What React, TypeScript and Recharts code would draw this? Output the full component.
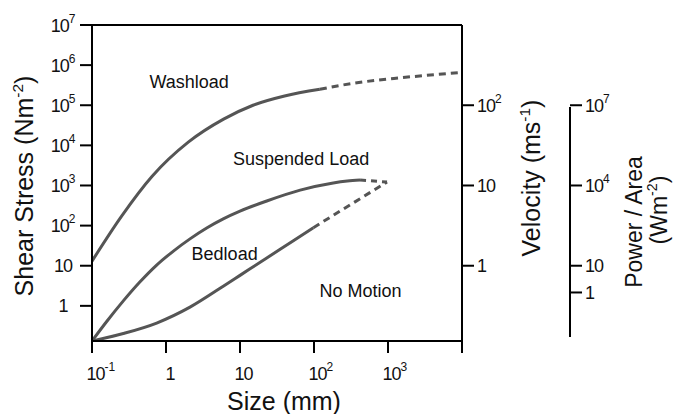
import { ComposedChart, Line, XAxis, YAxis, ReferenceLine, ReferenceDot, Label } from 'recharts';

const SIZE_TICKS = [0.1, 1, 10, 100, 1000, 10000];
const STRESS_TICKS = [1, 10, 100, 1e3, 1e4, 1e5, 1e6, 1e7];
const VELOCITY_TICKS = [1, 10, 100];
const POWER_TICKS = [1, 10, 1e4, 1e7];

const STRESS_DOMAIN = [0.133, 1e7];
// velocity^2 ~ stress / 10, power/area ~ 10 * velocity^3
const VELOCITY_DOMAIN = STRESS_DOMAIN.map((s) => Math.sqrt(s / 10));
const POWER_DOMAIN = VELOCITY_DOMAIN.map((v) => 10 * v * v * v);

const washloadSolid = [
    { size: 0.1, stress: 13 },
    { size: 0.25, stress: 170 },
    { size: 0.65, stress: 1700 },
    { size: 2, stress: 12000 },
    { size: 6, stress: 45000 },
    { size: 15, stress: 100000 },
    { size: 40, stress: 170000 },
    { size: 120, stress: 250000 },
];
const washloadDashed = [
    { size: 120, stress: 250000 },
    { size: 330, stress: 350000 },
    { size: 1600, stress: 490000 },
    { size: 10000, stress: 660000 },
];
const suspendedSolid = [
    { size: 0.1, stress: 0.133 },
    { size: 0.158, stress: 0.407 },
    { size: 0.265, stress: 1.33 },
    { size: 0.446, stress: 3.98 },
    { size: 0.748, stress: 10.4 },
    { size: 1.26, stress: 23.2 },
    { size: 2.11, stress: 46.7 },
    { size: 3.55, stress: 87 },
    { size: 5.94, stress: 147 },
    { size: 10, stress: 229 },
    { size: 23, stress: 410 },
    { size: 65, stress: 764 },
    { size: 182, stress: 1156 },
    { size: 282, stress: 1288 },
    { size: 419, stress: 1365 },
];
const suspendedDashed = [
    { size: 419, stress: 1365 },
    { size: 970, stress: 1220 },
];
const bedloadSolid = [
    { size: 0.1, stress: 0.133 },
    { size: 0.265, stress: 0.204 },
    { size: 0.748, stress: 0.372 },
    { size: 2.11, stress: 0.927 },
    { size: 5.94, stress: 3.08 },
    { size: 10, stress: 5.75 },
    { size: 23, stress: 15.6 },
    { size: 52.6, stress: 42.2 },
    { size: 98, stress: 88.9 },
];
const bedloadDashed = [
    { size: 98, stress: 88.9 },
    { size: 970, stress: 1220 },
];

const REGION_NAMES = ['Washload', 'Suspended Load', 'Bedload', 'No Motion'];
const REGION_SIZES = [2.05, 67, 6.2, 425];
const REGION_STRESSES = [3.9e5, 4700, 20, 2.33];

const INK = '#111';
const CURVE = '#555';
const SANS = '"Liberation Sans", Arial, Helvetica, sans-serif';
const TICK_SIZE = 18;
const DIGIT_W = 10;
const AXIS = { stroke: '#000', strokeWidth: 2 };

function splitPower(v: number) {
    const e = Math.round(Math.log10(v));
    if (e === 0) return { base: '1', exp: '' };
    if (e === 1) return { base: '10', exp: '' };
    return { base: '10', exp: String(e) };
}

function TickText({ x, y, value, anchor }: { x: number; y: number; value: number; anchor: 'start' | 'middle' }) {
    const { base, exp } = splitPower(value);
    return (
        <text x={x} y={y} textAnchor={anchor} fill={INK} fontFamily={SANS} fontSize={TICK_SIZE} letterSpacing={-1}>
            {base}
            {exp && <tspan dy={-9} fontSize={12} letterSpacing={0}>{exp}</tspan>}
        </text>
    );
}

const LeftTick = (p: any) => <TickText x={p.x - 15} y={p.y + 6.5} value={p.payload.value} anchor="middle" />;
const RightTick = (p: any) => <TickText x={p.x + 1} y={p.y + 6.5} value={p.payload.value} anchor="start" />;
const BottomTick = (p: any) => {
    if (p.payload.value >= 10000) return null;
    const { base } = splitPower(p.payload.value);
    return <TickText x={p.x + 4.5 - (base.length * DIGIT_W) / 2} y={p.y + 25} value={p.payload.value} anchor="start" />;
};

function RotatedTitle({ x, y, text, sup, tail, size }: { x: number; y: number; text: string; sup: string; tail: string; size: number }) {
    return (
        <text x={x} y={y} transform={`rotate(-90 ${x} ${y})`} textAnchor="middle" fill={INK} fontFamily={SANS} fontSize={size}>
            {text}
            {sup && <tspan dy={-10} fontSize={size * 0.62}>{sup}</tspan>}
            {sup && <tspan dy={10}>{tail}</tspan>}
        </text>
    );
}

export default function App() {
    return (
        <div style={{ width: 678, height: 414, background: '#fff' }}>
            <style>{'body{margin:0}'}</style>
            <ComposedChart width={678} height={414} margin={{ top: 25, right: 0, bottom: 0, left: 0 }}>
                <XAxis dataKey="size" type="number" scale="log" domain={[0.1, 10000]} ticks={SIZE_TICKS} interval={0}
                    allowDataOverflow height={73} tickSize={12} tickMargin={2} axisLine={AXIS} tickLine={AXIS} tick={BottomTick}>
                    <Label content={(p: any) => (
                        <text x={p.viewBox.x + p.viewBox.width / 2 + 7} y={p.viewBox.y + 69} textAnchor="middle"
                            fill={INK} fontFamily={SANS} fontSize={25}>Size (mm)</text>
                    )} />
                </XAxis>
                <YAxis yAxisId="stress" orientation="left" type="number" scale="log" domain={STRESS_DOMAIN} ticks={STRESS_TICKS}
                    interval={0} allowDataOverflow width={92} tickSize={12} tickMargin={2} axisLine={AXIS} tickLine={AXIS} tick={LeftTick}>
                    <Label content={(p: any) => (
                        <RotatedTitle x={p.viewBox.x + 33} y={p.viewBox.y + p.viewBox.height / 2 + 3}
                            text="Shear Stress (Nm" sup="-2" tail=")" size={25} />
                    )} />
                </YAxis>
                <YAxis yAxisId="b_power" orientation="right" type="number" scale="log" domain={POWER_DOMAIN} ticks={POWER_TICKS}
                    interval={0} allowDataOverflow width={108} tickSize={12} tickMargin={2}
                    axisLine={{ ...AXIS, strokeDasharray: '0 82 230 1000' }} tickLine={AXIS} tick={RightTick}>
                    <Label content={(p: any) => (
                        <g>
                            <RotatedTitle x={p.viewBox.x + 72} y={p.viewBox.y + 197} text="Power / Area" sup="" tail="" size={23} />
                            <RotatedTitle x={p.viewBox.x + 97} y={p.viewBox.y + 185} text="(Wm" sup="-2" tail=")" size={23} />
                        </g>
                    )} />
                </YAxis>
                <YAxis yAxisId="a_velocity" orientation="right" type="number" scale="log" domain={VELOCITY_DOMAIN} ticks={VELOCITY_TICKS}
                    interval={0} allowDataOverflow width={108} tickSize={12} tickMargin={2} axisLine={AXIS} tickLine={AXIS} tick={RightTick}>
                    <Label content={(p: any) => (
                        <RotatedTitle x={p.viewBox.x + 78} y={p.viewBox.y + p.viewBox.height / 2 - 5}
                            text="Velocity (ms" sup="-1" tail=")" size={25} />
                    )} />
                </YAxis>

                <ReferenceLine yAxisId="stress" y={1e7} stroke="#000" strokeWidth={2} />

                <Line yAxisId="stress" data={washloadSolid} dataKey="stress" type="monotone" stroke={CURVE} strokeWidth={3} dot={false} isAnimationActive={false} />
                <Line yAxisId="stress" data={washloadDashed} dataKey="stress" type="monotone" stroke={CURVE} strokeWidth={3} strokeDasharray="7 5" dot={false} isAnimationActive={false} />
                <Line yAxisId="stress" data={suspendedSolid} dataKey="stress" type="monotone" stroke={CURVE} strokeWidth={3} dot={false} isAnimationActive={false} />
                <Line yAxisId="stress" data={suspendedDashed} dataKey="stress" type="linear" stroke={CURVE} strokeWidth={3} strokeDasharray="6 5" dot={false} isAnimationActive={false} />
                <Line yAxisId="stress" data={bedloadSolid} dataKey="stress" type="monotone" stroke={CURVE} strokeWidth={3} dot={false} isAnimationActive={false} />
                <Line yAxisId="stress" data={bedloadDashed} dataKey="stress" type="linear" stroke={CURVE} strokeWidth={3} strokeDasharray="7 5" dot={false} isAnimationActive={false} />

                {REGION_NAMES.map((name, i) => (
                    <ReferenceDot key={name} yAxisId="stress" x={REGION_SIZES[i]} y={REGION_STRESSES[i]} r={0} stroke="none" fill="none"
                        label={{ value: name, position: 'center', fill: INK, fontSize: 18, fontFamily: SANS }} />
                ))}
            </ComposedChart>
        </div>
    );
}
